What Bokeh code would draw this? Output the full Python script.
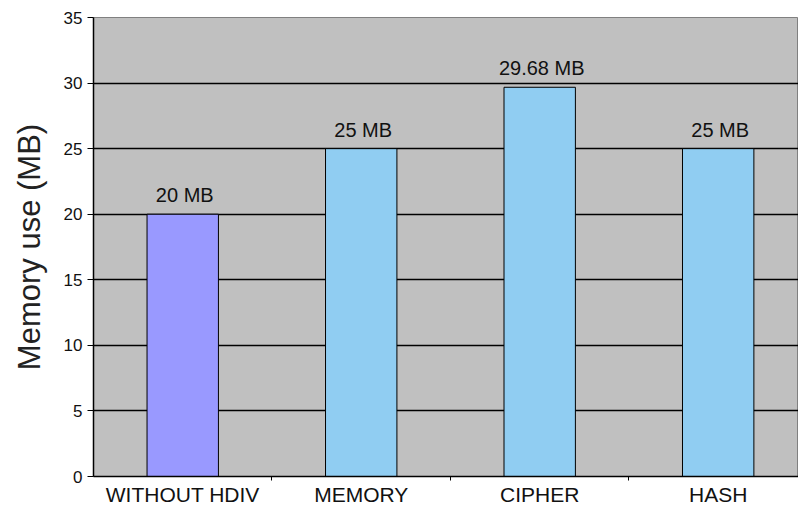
from bokeh.plotting import figure
from bokeh.models import ColumnDataSource, FixedTicker, Range1d, LabelSet
from bokeh.core.properties import value
from bokeh.embed import file_html
from bokeh.resources import INLINE

categories = ["WITHOUT HDIV", "MEMORY", "CIPHER", "HASH"]
values = [20, 25, 29.68, 25]
value_labels = ["20 MB", "25 MB", "29.68 MB", "25 MB"]
colors = ["#9999FF", "#90CDF2", "#90CDF2", "#90CDF2"]
y_ticks = [0, 5, 10, 15, 20, 25, 30, 35]

xs = [i + 0.5 for i in range(len(categories))]
src = ColumnDataSource(dict(x=xs, top=values, color=colors, label=value_labels))

p = figure(width=798, height=508, output_backend="svg", toolbar_location=None,
           x_range=Range1d(0, 3.95), y_range=Range1d(0, 35),
           min_border_left=93, min_border_top=17, min_border_bottom=30, min_border_right=0)
p.background_fill_color = "#C0C0C0"
p.border_fill_color = "white"
p.outline_line_color = "#808080"

p.vbar(x="x", top="top", width=0.4, bottom=0, fill_color="color", line_color="black",
       line_width=1, source=src)

labels = LabelSet(x="x", y="top", text="label", source=src, text_align="center",
                  text_baseline="bottom", y_offset=8, text_font=value("Liberation Sans"),
                  text_font_size=value("20px"), text_color="#111111", x_offset=2)
p.add_layout(labels)

p.xgrid.grid_line_color = None
p.ygrid.ticker = FixedTicker(ticks=y_ticks)
p.ygrid.grid_line_color = "black"
p.ygrid.grid_line_width = 1.3

p.xaxis.ticker = FixedTicker(ticks=xs, minor_ticks=[1, 2, 3])
p.xaxis.major_label_overrides = {x: c for x, c in zip(xs, categories)}
p.xaxis.major_tick_line_color = None
p.xaxis.minor_tick_out = 4
p.xaxis.minor_tick_in = 0
p.xaxis.minor_tick_line_color = "black"
p.xaxis.axis_line_color = "black"
p.xaxis.axis_line_width = 1.5
p.xaxis.major_label_text_font = "Liberation Sans"
p.xaxis.major_label_text_font_size = "21px"
p.xaxis.major_label_text_color = "#111111"
p.xaxis.major_label_standoff = 0

p.yaxis.ticker = FixedTicker(ticks=y_ticks)
p.yaxis.minor_tick_line_color = None
p.yaxis.major_tick_out = 6
p.yaxis.major_tick_in = 0
p.yaxis.major_tick_line_color = "black"
p.yaxis.axis_line_color = "black"
p.yaxis.axis_line_width = 1.5
p.yaxis.major_label_text_font = "Liberation Sans"
p.yaxis.major_label_text_font_size = "17px"
p.yaxis.major_label_text_color = "#111111"
p.yaxis.major_label_standoff = 5
p.yaxis.axis_label = "Memory use (MB)"
p.yaxis.axis_label_text_font = "Liberation Sans"
p.yaxis.axis_label_text_font_size = "31px"
p.yaxis.axis_label_text_font_style = "normal"
p.yaxis.axis_label_text_color = "#222222"
p.yaxis.axis_label_standoff = 14

open("out.html", "w").write(file_html(p, INLINE))
